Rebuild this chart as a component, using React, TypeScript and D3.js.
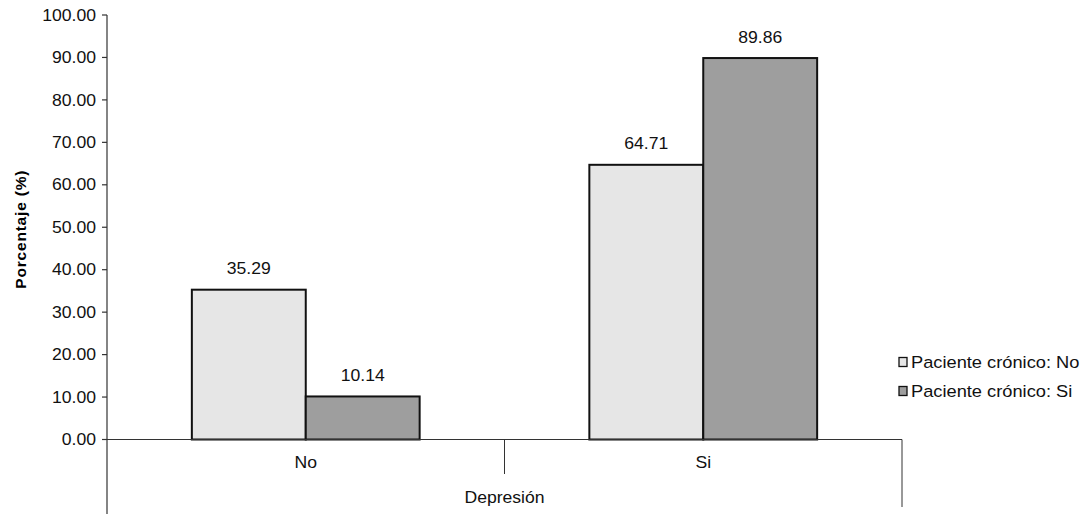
import React, { useEffect, useRef } from 'react';
import * as d3 from 'd3';

const categories = ['No', 'Si'];
const seriesNames = ['Paciente crónico: No', 'Paciente crónico: Si'];
const cronicoNo = [35.29, 64.71];
const cronicoSi = [10.14, 89.86];
const yTicks = [0, 10, 20, 30, 40, 50, 60, 70, 80, 90, 100];

const colors = ['#e6e6e6', '#9e9e9e'];
const FONT = 'Arial, "Liberation Sans", sans-serif';

const BarChart = ({ width, height }: { width: number; height: number }) => {
  const chartRef = useRef<SVGSVGElement>(null);

  useEffect(() => {
    renderChart();
  }, [width, height]);

  const renderChart = () => {
    const svg = d3.select(chartRef.current);
    svg.selectAll('*').remove();

    const left = 107, right = 902, top = 15, bottom = 439.5;

    const y = d3.scaleLinear().domain([0, 100]).range([bottom, top]);
    const x0 = d3.scaleBand().domain(categories).range([left, right]).padding(0);
    const x1 = d3.scaleBand().domain(seriesNames).range([0, x0.bandwidth()]).paddingInner(0).paddingOuter(0.745);

    // stretched text like the scanned original
    const label = (g, tx, ty, txt, anchor = 'middle', size = 16, weight = 'normal') =>
      g.append('text')
        .attr('transform', `translate(${tx},${ty}) scale(1.1,1)`)
        .attr('text-anchor', anchor)
        .attr('dy', '0.35em')
        .style('font-family', FONT)
        .style('font-size', size)
        .style('font-weight', weight)
        .style('fill', '#111')
        .text(txt);

    // y axis
    svg.append('line')
      .attr('x1', left).attr('x2', left).attr('y1', top).attr('y2', 514)
      .attr('stroke', '#333').attr('stroke-width', 1.2);
    yTicks.forEach(t => {
      svg.append('line')
        .attr('x1', left - 5).attr('x2', left).attr('y1', y(t)).attr('y2', y(t))
        .attr('stroke', '#333').attr('stroke-width', 1.2);
      label(svg, left - 11, y(t), t.toFixed(2), 'end');
    });

    // y title
    svg.append('text')
      .attr('transform', `translate(21,${(top + bottom) / 2 + 2}) rotate(-90)`)
      .attr('text-anchor', 'middle')
      .attr('dy', '0.35em')
      .style('font-family', FONT)
      .style('font-size', 15.5)
      .style('font-weight', 'bold')
      .style('letter-spacing', '0.8px')
      .text('Porcentaje (%)');

    // bars
    const data = categories.map((c, i) => ({ cat: c, vals: [cronicoNo[i], cronicoSi[i]] }));
    const groups = svg.selectAll('.grp').data(data).enter().append('g')
      .attr('class', 'grp')
      .attr('transform', d => `translate(${x0(d.cat)},0)`);

    groups.selectAll('rect')
      .data(d => d.vals.map((v, j) => ({ name: seriesNames[j], v, j })))
      .enter().append('rect')
      .attr('x', d => x1(d.name))
      .attr('y', d => y(d.v))
      .attr('width', x1.bandwidth())
      .attr('height', d => bottom - y(d.v))
      .attr('fill', d => colors[d.j])
      .attr('stroke', '#111')
      .attr('stroke-width', 2);

    groups.each(function (d) {
      const g = d3.select(this);
      d.vals.forEach((v, j) => {
        label(g, x1(seriesNames[j]) + x1.bandwidth() / 2, y(v) - 21, v.toFixed(2));
      });
    });

    // x axis
    svg.append('line')
      .attr('x1', left).attr('x2', right).attr('y1', bottom).attr('y2', bottom)
      .attr('stroke', '#333').attr('stroke-width', 1.2);
    svg.append('line')
      .attr('x1', x0('Si')).attr('x2', x0('Si')).attr('y1', bottom).attr('y2', 474)
      .attr('stroke', '#333').attr('stroke-width', 1);
    svg.append('line')
      .attr('x1', right).attr('x2', right).attr('y1', bottom).attr('y2', 507)
      .attr('stroke', '#333').attr('stroke-width', 1);
    categories.forEach(c => {
      label(svg, x0(c) + x0.bandwidth() / 2, 462, c);
    });
    label(svg, x0('Si'), 497, 'Depresión');

    // legend
    seriesNames.forEach((s, i) => {
      const ly = 362 + i * 29;
      svg.append('rect')
        .attr('x', 899).attr('y', ly - 4.5).attr('width', 8).attr('height', 9)
        .attr('fill', colors[i]).attr('stroke', '#111').attr('stroke-width', 1.3);
      label(svg, 911, ly, s, 'start', 16.6);
    });
  };

  return <svg ref={chartRef} width={width} height={height} style={{ position: 'absolute', left: 0, top: 0, background: '#fff' }}></svg>;
};

export default function App() {
  return <BarChart width={1083} height={518} />;
}
